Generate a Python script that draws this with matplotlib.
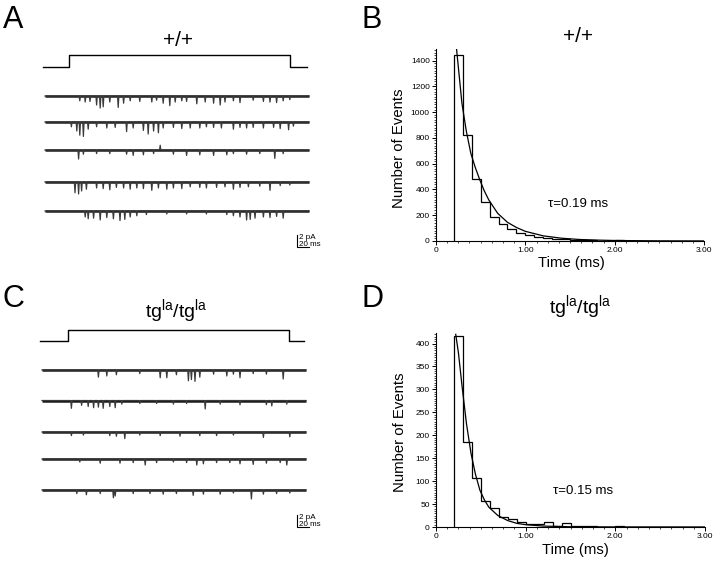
import numpy as np
import matplotlib.pyplot as plt
from matplotlib.ticker import MultipleLocator, FixedLocator, FixedFormatter

plt.rcParams['font.family'] = ['Liberation Sans', 'DejaVu Sans']
plt.rcParams['mathtext.fontset'] = 'custom'
plt.rcParams['mathtext.rm'] = 'Liberation Sans'

# ---- data ----
sweep_ms = 440

# single channel events per sweep: (time in ms, amplitude in pA), downward
events_A1 = [(58, 0.8), (67, 1.0), (75, 0.9), (86, 1.5), (92, 2.0), (97, 1.8), (108, 1.0),
             (122, 1.9), (131, 1.2), (142, 0.8), (158, 0.9), (178, 1.0), (186, 0.7), (197, 1.2),
             (208, 1.6), (217, 1.0), (228, 0.8), (236, 0.9), (253, 1.3), (267, 1.0), (281, 1.2),
             (292, 1.5), (300, 1.0), (314, 0.8), (325, 1.1), (347, 0.7), (364, 0.9), (375, 1.0),
             (386, 1.1), (397, 0.8), (408, 0.6)]
events_A2 = [(44, 0.8), (53, 1.5), (58, 2.2), (64, 2.4), (72, 1.2), (86, 0.8), (103, 1.0),
             (117, 0.9), (136, 1.6), (147, 1.0), (164, 1.4), (172, 2.0), (181, 1.5), (189, 1.8),
             (197, 1.0), (214, 0.9), (228, 1.1), (242, 1.0), (258, 1.0), (269, 0.8), (281, 0.9),
             (294, 1.0), (314, 1.2), (325, 0.9), (336, 1.0), (347, 0.9), (364, 1.0), (381, 0.9),
             (392, 1.1), (406, 1.3), (414, 0.7)]
events_A3 = [(56, 1.5), (64, 0.7), (86, 0.6), (108, 0.6), (136, 0.7), (147, 0.9), (164, 0.8),
             (181, 0.6), (192, -0.8), (214, 0.7), (236, 0.9), (258, 0.8), (281, 0.9), (303, 0.8),
             (314, 0.6), (336, 0.7), (358, 0.6), (383, 1.4), (397, 0.6)]
events_A4 = [(50, 1.8), (56, 2.0), (61, 1.5), (69, 1.2), (86, 1.0), (97, 1.1), (108, 1.3),
             (119, 0.9), (131, 1.0), (142, 1.2), (153, 1.0), (164, 1.1), (178, 1.4), (189, 1.0),
             (203, 1.2), (214, 1.0), (228, 1.1), (242, 0.8), (258, 0.9), (269, 1.0), (286, 0.9),
             (300, 0.8), (314, 1.2), (325, 0.9), (339, 0.8), (358, 0.7), (375, 1.4), (392, 0.6),
             (408, 0.5)]
events_A5 = [(67, 1.0), (72, 1.3), (81, 1.2), (92, 1.5), (103, 1.1), (114, 1.3), (125, 1.6),
             (133, 1.4), (142, 1.0), (153, 0.8), (169, 0.6), (203, 0.5), (236, 0.5), (269, 0.5),
             (303, 0.6), (314, 0.8), (325, 1.0), (336, 1.5), (342, 1.4), (350, 1.2), (364, 1.0),
             (375, 1.1), (386, 0.9), (397, 1.2)]

events_C1 = [(94, 1.2), (108, 1.0), (124, 0.8), (163, 0.6), (197, 1.3), (208, 1.3), (224, 0.8),
             (244, 1.8), (249, 1.6), (255, 1.9), (263, 1.2), (286, 0.7), (308, 1.0), (319, 0.7),
             (330, 1.3), (352, 0.6), (374, 0.7), (402, 1.5)]
events_C2 = [(49, 1.3), (66, 0.8), (77, 1.0), (86, 1.2), (94, 1.1), (102, 1.3), (113, 1.0),
             (122, 1.2), (133, 0.6), (163, 0.5), (191, 0.5), (219, 0.6), (241, 0.5), (272, 1.4),
             (297, 0.6), (330, 0.7), (374, 0.7), (383, 0.9), (408, 0.6)]
events_C3 = [(49, 0.6), (69, 0.5), (113, 0.6), (124, 0.7), (138, 1.1), (163, 0.5), (197, 0.6),
             (230, 0.7), (263, 0.6), (291, 0.6), (319, 0.5), (369, 0.9), (413, 0.8)]
events_C4 = [(63, 0.5), (97, 0.7), (130, 0.7), (152, 0.6), (172, 1.0), (191, 0.6), (219, 0.5),
             (241, 0.6), (258, 1.0), (269, 0.8), (291, 0.6), (313, 0.6), (330, 0.8), (352, 0.9),
             (374, 0.7), (397, 0.6), (408, 1.0)]
events_C5 = [(58, 0.6), (74, 0.8), (97, 0.6), (119, 1.3), (122, 1.0), (152, 0.6), (180, 0.6),
             (202, 0.7), (224, 0.6), (252, 0.9), (269, 0.7), (297, 0.7), (319, 0.5), (349, 1.5),
             (369, 0.7), (391, 0.6), (413, 0.5)]

pulse_A = (40, 409)
pulse_C = (43, 412)

# open time histograms (bin width 0.1 ms, first bin at 0.2 ms)
bin_edges = np.round(np.arange(0.2, 3.05, 0.1), 2)
counts_wt = [1440, 820, 480, 300, 190, 130, 90, 65, 45, 32, 20, 14, 14, 6,
             4, 5, 3, 2, 6, 2, 1, 1, 1, 2, 1, 0, 1, 1]
counts_tg = [416, 186, 106, 57, 42, 22, 18, 10, 7, 6, 11, 3, 9, 3,
             2, 2, 1, 1, 2, 1, 1, 1, 0, 1, 1, 1, 1, 1]

# exponential fits
fit_t_wt = [0.23, 0.29, 0.34, 0.39, 0.44, 0.49, 0.54, 0.59, 0.69, 0.8, 0.9, 1.0,
            1.2, 1.4, 1.6, 1.8, 2.0, 2.5, 3.0]
fit_y_wt = [1490, 1070, 850, 680, 570, 475, 390, 320, 215, 145, 105, 75,
            40, 22, 12, 7, 4, 1, 0.3]
fit_t_tg = [0.22, 0.25, 0.29, 0.34, 0.39, 0.44, 0.49, 0.54, 0.59, 0.69, 0.8, 0.9,
            1.0, 1.2, 1.5, 2.0, 3.0]
fit_y_tg = [420, 380, 308, 225, 161, 115, 80, 59, 43, 25, 14, 8,
            5, 2, 0.5, 0.1, 0]

W, H = 720, 564
fig = plt.figure(figsize=(W / 100, H / 100), dpi=100)


def px_axes(l, t, r, b):
    return fig.add_axes([l / W, 1 - b / H, (r - l) / W, (b - t) / H])


def trace_xy(events):
    xs, ys = [0], [0]
    for t, a in sorted(events):
        xs += [t - 1.1, t, t + 1.1]
        ys += [0, -a, 0]
    xs.append(sweep_ms)
    ys.append(0)
    return np.array(xs), np.array(ys)


def trace_panel(box, x0, sweeps, offsets, pulse, pulse_lv, bar):
    ax = px_axes(*box)
    ax.set_xlim((box[0] - x0) / 0.6, (box[2] - x0) / 0.6)
    ax.set_ylim(-(box[3] - box[1]) / 6, 0)
    ax.axis('off')
    lo, hi = pulse_lv
    ax.plot([-3, pulse[0], pulse[0], pulse[1], pulse[1], sweep_ms - 4],
            [lo, lo, hi, hi, lo, lo], color='black', lw=1.0)
    for ev, off in zip(sweeps, offsets):
        ax.plot([0, sweep_ms], [off, off], color='#1a1a1a', lw=1.8, solid_capstyle='butt')
        xs, ys = trace_xy(ev)
        ax.plot(xs, ys + off, color='#3a3a3a', lw=0.9)
    bx, by = bar
    ax.plot([bx, bx, bx + 20], [by + 2, by, by], color='black', lw=0.8)
    ax.text(bx + 3, by + 1.55, '2 pA', fontsize=5.8, va='center')
    ax.text(bx + 3, by + 0.35, '20 ms', fontsize=5.8, va='center')
    return ax


trace_panel((30, 20, 330, 260), 45,
            [events_A1, events_A2, events_A3, events_A4, events_A5],
            [-12.67, -17.0, -21.67, -27.0, -31.83],
            pulse_A, (-7.78, -5.83), (420, -37.83))
trace_panel((30, 290, 330, 550), 42,
            [events_C1, events_C2, events_C3, events_C4, events_C5],
            [-13.33, -18.42, -23.67, -28.17, -33.33],
            pulse_C, (-8.5, -6.67), (425, -39.5))


def hist_panel(box, counts, fit_t, fit_y, ymax, ymajor, yminor):
    ax = px_axes(*box)
    ax.stairs(counts, bin_edges, color='black', lw=0.9, baseline=0)
    ax.plot(fit_t, fit_y, color='black', lw=0.9)
    ax.set_xlim(0, 3.0)
    ax.set_ylim(0, ymax)
    for s in ['top', 'right']:
        ax.spines[s].set_visible(False)
    for s in ['left', 'bottom']:
        ax.spines[s].set_linewidth(0.8)
    ax.yaxis.set_major_locator(MultipleLocator(ymajor))
    ax.yaxis.set_minor_locator(MultipleLocator(yminor))
    ax.xaxis.set_major_locator(FixedLocator([0, 1, 2, 3]))
    ax.xaxis.set_major_formatter(FixedFormatter(['0', '1.00', '2.00', '3.00']))
    ax.xaxis.set_minor_locator(MultipleLocator(0.125))
    ax.tick_params(which='major', length=3, width=0.7, labelsize=6, pad=1.5)
    ax.tick_params(which='minor', length=1.5, width=0.5)
    return ax


hist_panel((436, 49, 704, 241), counts_wt, fit_t_wt, fit_y_wt, 1490, 200, 20)
hist_panel((436, 333, 705, 527), counts_tg, fit_t_tg, fit_y_tg, 423, 50, 5)


def ftext(x, y, s, **kw):
    fig.text(x / W, 1 - y / H, s, **kw)


for lab, x, y in [('A', 3, 28), ('B', 362, 28), ('C', 3, 307), ('D', 362, 307)]:
    ftext(x, y, lab, fontsize=22, va='baseline')

ftext(178, 40, '+/+', fontsize=15, ha='center', va='center')
ftext(176, 312, r'tg$^{\mathrm{la}}$/tg$^{\mathrm{la}}$', fontsize=14, ha='center', va='center')
ftext(578, 37, '+/+', fontsize=15, ha='center', va='center')
ftext(580, 308, r'tg$^{\mathrm{la}}$/tg$^{\mathrm{la}}$', fontsize=14, ha='center', va='center')

ftext(399, 148, 'Number of Events', fontsize=10.7, rotation=90, ha='center', va='center')
ftext(400, 432, 'Number of Events', fontsize=10.7, rotation=90, ha='center', va='center')
ftext(571, 263, 'Time (ms)', fontsize=10.7, ha='center', va='center')
ftext(575, 550, 'Time (ms)', fontsize=10.7, ha='center', va='center')

ftext(548, 204, 'τ=0.19 ms', fontsize=9.5, va='center')
ftext(553, 491, 'τ=0.15 ms', fontsize=9.5, va='center')

fig.savefig('out.png', dpi=100)
